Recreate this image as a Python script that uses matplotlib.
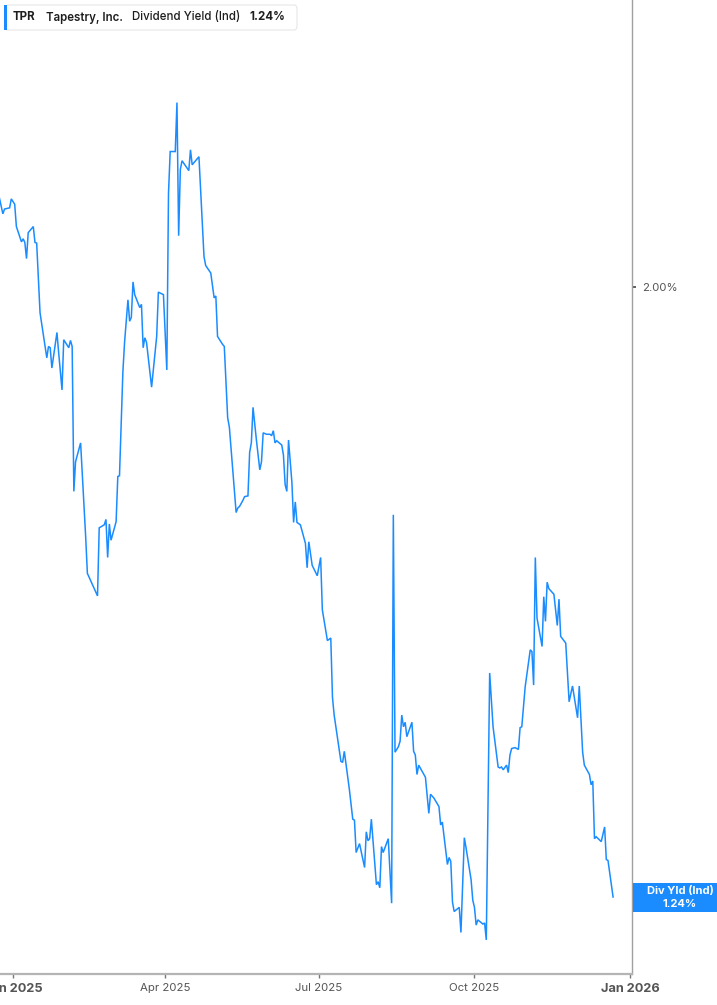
import matplotlib
matplotlib.use("Agg")
import matplotlib.pyplot as plt
import matplotlib.dates as mdates
from matplotlib.patches import FancyBboxPatch, Rectangle
import numpy as np
import pandas as pd

plt.rcParams['font.family'] = ['Inter', 'DejaVu Sans']

# ---- data ----
dates = [
    "2024-12-24", "2024-12-26", "2024-12-27", "2024-12-30", "2024-12-31",
    "2025-01-02", "2025-01-03", "2025-01-06", "2025-01-07", "2025-01-08",
    "2025-01-09", "2025-01-10", "2025-01-13", "2025-01-14", "2025-01-15",
    "2025-01-17", "2025-01-21", "2025-01-22", "2025-01-23", "2025-01-24",
    "2025-01-27", "2025-01-28", "2025-01-30", "2025-01-31", "2025-02-03",
    "2025-02-04", "2025-02-05", "2025-02-06", "2025-02-07", "2025-02-10",
    "2025-02-13", "2025-02-14", "2025-02-20", "2025-02-21", "2025-02-24",
    "2025-02-25", "2025-02-26", "2025-02-27", "2025-02-28", "2025-03-03",
    "2025-03-04", "2025-03-05", "2025-03-07", "2025-03-08", "2025-03-10",
    "2025-03-11", "2025-03-12", "2025-03-13", "2025-03-14", "2025-03-17",
    "2025-03-18", "2025-03-19", "2025-03-20", "2025-03-21", "2025-03-24",
    "2025-03-27", "2025-03-28", "2025-03-31", "2025-04-02", "2025-04-03",
    "2025-04-04", "2025-04-07", "2025-04-08", "2025-04-09", "2025-04-10",
    "2025-04-11", "2025-04-15", "2025-04-16", "2025-04-17", "2025-04-21",
    "2025-04-24", "2025-04-25", "2025-04-28", "2025-04-30", "2025-05-01",
    "2025-05-02", "2025-05-05", "2025-05-06", "2025-05-08", "2025-05-09",
    "2025-05-13", "2025-05-14", "2025-05-15", "2025-05-17", "2025-05-18",
    "2025-05-20", "2025-05-21", "2025-05-22", "2025-05-23", "2025-05-25",
    "2025-05-27", "2025-05-28", "2025-05-29", "2025-05-31", "2025-06-02",
    "2025-06-03", "2025-06-04", "2025-06-05", "2025-06-06", "2025-06-09",
    "2025-06-10", "2025-06-11", "2025-06-12", "2025-06-13", "2025-06-15",
    "2025-06-16", "2025-06-17", "2025-06-18", "2025-06-20", "2025-06-23",
    "2025-06-24", "2025-06-25", "2025-06-27", "2025-06-30", "2025-07-02",
    "2025-07-03", "2025-07-06", "2025-07-08", "2025-07-09", "2025-07-10",
    "2025-07-14", "2025-07-15", "2025-07-16", "2025-07-19", "2025-07-21",
    "2025-07-22", "2025-07-23", "2025-07-25", "2025-07-28", "2025-07-29",
    "2025-07-30", "2025-07-31", "2025-08-01", "2025-08-04", "2025-08-05",
    "2025-08-06", "2025-08-07", "2025-08-08", "2025-08-11", "2025-08-13",
    "2025-08-14", "2025-08-15", "2025-08-17", "2025-08-18", "2025-08-19",
    "2025-08-20", "2025-08-21", "2025-08-22", "2025-08-25", "2025-08-26",
    "2025-08-27", "2025-08-28", "2025-08-29", "2025-09-02", "2025-09-04",
    "2025-09-05", "2025-09-07", "2025-09-10", "2025-09-11", "2025-09-12",
    "2025-09-15", "2025-09-16", "2025-09-17", "2025-09-18", "2025-09-19",
    "2025-09-22", "2025-09-23", "2025-09-25", "2025-09-26", "2025-09-29",
    "2025-09-30", "2025-10-01", "2025-10-02", "2025-10-03", "2025-10-06",
    "2025-10-07", "2025-10-08", "2025-10-10", "2025-10-12", "2025-10-14",
    "2025-10-15", "2025-10-16", "2025-10-17", "2025-10-18", "2025-10-20",
    "2025-10-21", "2025-10-22", "2025-10-23", "2025-10-25", "2025-10-27",
    "2025-10-28", "2025-10-29", "2025-10-31", "2025-11-03", "2025-11-04",
    "2025-11-05", "2025-11-06", "2025-11-07", "2025-11-10", "2025-11-11",
    "2025-11-12", "2025-11-13", "2025-11-14", "2025-11-17", "2025-11-19",
    "2025-11-20", "2025-11-21", "2025-11-24", "2025-11-26", "2025-11-28",
    "2025-12-01", "2025-12-02", "2025-12-04", "2025-12-05", "2025-12-08",
    "2025-12-09", "2025-12-10", "2025-12-11", "2025-12-12", "2025-12-15",
    "2025-12-17", "2025-12-18", "2025-12-19", "2025-12-22",
]
div_yield = [
    2.144, 2.118, 2.126, 2.128, 2.143,
    2.134, 2.097, 2.072, 2.077, 2.071,
    2.045, 2.087, 2.097, 2.071, 2.070,
    1.960, 1.892, 1.909, 1.907, 1.877,
    1.930, 1.900, 1.845, 1.919, 1.907,
    1.918, 1.909, 1.704, 1.744, 1.770,
    1.644, 1.598, 1.570, 1.656, 1.660,
    1.667, 1.618, 1.661, 1.640, 1.664,
    1.724, 1.725, 1.871, 1.915, 1.980,
    1.947, 1.953, 2.008, 1.988, 1.968,
    1.973, 1.907, 1.922, 1.915, 1.849,
    1.924, 1.992, 1.988, 1.874, 2.153,
    2.224, 2.224, 2.311, 2.082, 2.193,
    2.208, 2.191, 2.227, 2.201, 2.215,
    2.048, 2.034, 2.022, 1.983, 1.986,
    1.924, 1.912, 1.909, 1.805, 1.792,
    1.676, 1.682, 1.684, 1.692, 1.697,
    1.698, 1.757, 1.770, 1.820, 1.774,
    1.733, 1.744, 1.784, 1.782, 1.782,
    1.780, 1.787, 1.770, 1.773, 1.767,
    1.753, 1.713, 1.704, 1.774, 1.716,
    1.663, 1.690, 1.663, 1.660, 1.636,
    1.605, 1.638, 1.608, 1.595, 1.618,
    1.553, 1.516, 1.519, 1.450, 1.430,
    1.379, 1.378, 1.390, 1.349, 1.318,
    1.317, 1.284, 1.293, 1.269, 1.305,
    1.296, 1.298, 1.318, 1.252, 1.255,
    1.249, 1.290, 1.284, 1.298, 1.234,
    1.673, 1.389, 1.395, 1.401, 1.430,
    1.417, 1.422, 1.406, 1.422, 1.390,
    1.386, 1.365, 1.375, 1.362, 1.324,
    1.344, 1.340, 1.331, 1.312, 1.315,
    1.272, 1.279, 1.275, 1.235, 1.226,
    1.230, 1.206, 1.299, 1.289, 1.257,
    1.237, 1.230, 1.213, 1.218, 1.214,
    1.215, 1.199, 1.478, 1.417, 1.388,
    1.373, 1.372, 1.373, 1.370, 1.375,
    1.367, 1.386, 1.393, 1.394, 1.392,
    1.416, 1.417, 1.462, 1.505, 1.503,
    1.464, 1.618, 1.543, 1.509, 1.569,
    1.539, 1.587, 1.579, 1.572, 1.534,
    1.566, 1.521, 1.513, 1.445, 1.463,
    1.427, 1.463, 1.389, 1.375, 1.365,
    1.354, 1.358, 1.298, 1.300, 1.295,
    1.310, 1.277, 1.276, 1.240,
]
tick_dates = ["2025-01-01", "2025-04-01", "2025-07-01", "2025-10-01", "2026-01-01"]
tick_labels = ["Jan 2025", "Apr 2025", "Jul 2025", "Oct 2025", "Jan 2026"]
y_ticks = [2.0]
y_tick_labels = ["2.00%"]
ticker = "TPR"
company = "Tapestry, Inc."
metric = "Dividend Yield (Ind)"
short_metric = "Div Yld (Ind)"
last_label = "1.24%"

LINE = "#1a8cff"

W, H = 717, 1005
fig = plt.figure(figsize=(W / 100, H / 100), dpi=100)
ax = fig.add_axes([0, (H - 974) / H, 632 / W, 974 / H])

x = pd.to_datetime(dates)
ax.plot(x, div_yield, color=LINE, lw=1.1, solid_joinstyle="miter")

ax.set_yscale("log")
ax.set_ylim(1.1674, 2.5044)
x0 = pd.Timestamp("2025-01-01")
ax.set_xlim(mdates.date2num(x0) - 7.69, mdates.date2num(x0) + 366.2)

ax.set_xticks(pd.to_datetime(tick_dates))
ax.set_xticklabels(tick_labels)
ax.yaxis.tick_right()
ax.set_yticks(y_ticks)
ax.set_yticklabels(y_tick_labels)
ax.yaxis.set_minor_locator(matplotlib.ticker.NullLocator())

for s in ["left", "top"]:
    ax.spines[s].set_visible(False)
ax.spines["right"].set_color("#a0a0a0")
ax.spines["right"].set_linewidth(1.0)
ax.spines["bottom"].set_color("#b4b4b4")
ax.spines["bottom"].set_linewidth(1.6)

ax.tick_params(axis="x", direction="out", length=3, width=1.0, color="#777777",
               labelsize=8.2, labelcolor="#555555", pad=3.5)
ax.tick_params(axis="y", direction="out", length=3, width=1.2, color="#444444",
               labelsize=8.2, labelcolor="#555555", pad=4)
for lbl in ax.get_xticklabels():
    if lbl.get_text().startswith("Jan"):
        lbl.set_fontweight("bold")
        lbl.set_fontsize(9.2)

# ---- header box ----
def fx(px):
    return px / W

def fy(py):
    return 1 - py / H

hdr = FancyBboxPatch((fx(5), fy(30)), fx(292), 25 / H,
                     boxstyle="round,pad=0,rounding_size=0.004",
                     transform=fig.transFigure, facecolor="white",
                     edgecolor="#e6e6e6", lw=0.8, zorder=5)
fig.patches.append(hdr)
fig.patches.append(Rectangle((fx(4), fy(30)), fx(3), 25 / H, transform=fig.transFigure,
                             facecolor=LINE, edgecolor="none", zorder=6))
ty = fy(17.5)
fig.text(fx(13), ty, ticker, fontsize=8.3, fontweight="bold", color="#1e1e1e", va="center", zorder=7)
fig.text(fx(46), ty, company, fontsize=8.3, fontweight="semibold", color="#1e1e1e", va="center", zorder=7)
fig.text(fx(132), ty, metric, fontsize=8.3, fontweight="medium", color="#1e1e1e", va="center", zorder=7)
fig.text(fx(249), ty, last_label, fontsize=8.3, fontweight="bold", color="#1e1e1e", va="center", zorder=7)

# ---- last value label ----
fig.canvas.draw()
last_disp = ax.transData.transform((mdates.date2num(x[-1]), div_yield[-1]))
last_fig_y = fig.transFigure.inverted().transform(last_disp)[1]
box_h = 29 / H
fig.patches.append(Rectangle((fx(633), last_fig_y - box_h / 2), fx(84), box_h,
                             transform=fig.transFigure, facecolor=LINE,
                             edgecolor="none", zorder=6))
fig.text(fx(680), last_fig_y + 6 / H, short_metric, fontsize=8.0, fontweight="bold",
         color="white", ha="center", va="center", zorder=7)
fig.text(fx(680), last_fig_y - 7 / H, last_label, fontsize=8.0, fontweight="bold",
         color="white", ha="center", va="center", zorder=7)

fig.savefig("out.png", dpi=100)
